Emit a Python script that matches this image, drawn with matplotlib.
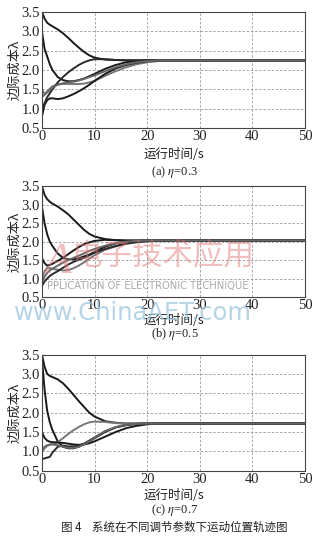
import matplotlib
matplotlib.use("Agg")
import matplotlib.pyplot as plt

plt.rcParams['font.family'] = ['Liberation Serif', 'Noto Sans CJK SC', 'DejaVu Sans']
plt.rcParams['mathtext.fontset'] = 'stix'

CJK = ['Noto Sans CJK SC', 'DejaVu Sans']

# shared time samples (s)
T = [0, 0.5, 1, 1.5, 2, 3, 4, 5, 6, 7, 8, 9, 10, 12, 14, 16, 18, 20, 22, 25, 30, 40, 50]

# (a) eta = 0.3
a1 = [3.5, 3.33, 3.22, 3.17, 3.13, 3.05, 2.95, 2.83, 2.70, 2.58, 2.47, 2.38, 2.32, 2.27, 2.26, 2.25, 2.25, 2.25, 2.25, 2.25, 2.25, 2.25, 2.25]
a2 = [3.0, 2.55, 2.35, 2.15, 2.00, 1.82, 1.74, 1.71, 1.71, 1.74, 1.78, 1.84, 1.90, 2.03, 2.13, 2.20, 2.23, 2.25, 2.25, 2.25, 2.25, 2.25, 2.25]
a3 = [1.5, 1.38, 1.45, 1.52, 1.58, 1.63, 1.64, 1.64, 1.64, 1.64, 1.65, 1.68, 1.72, 1.85, 1.97, 2.07, 2.15, 2.20, 2.23, 2.25, 2.25, 2.25, 2.25]
a4 = [0.8, 1.10, 1.22, 1.27, 1.27, 1.25, 1.27, 1.32, 1.38, 1.45, 1.53, 1.62, 1.72, 1.90, 2.04, 2.13, 2.19, 2.23, 2.25, 2.25, 2.25, 2.25, 2.25]
a5 = [1.0, 1.15, 1.30, 1.40, 1.50, 1.68, 1.82, 1.94, 2.04, 2.13, 2.20, 2.25, 2.28, 2.28, 2.26, 2.25, 2.25, 2.25, 2.25, 2.25, 2.25, 2.25, 2.25]
a6 = [1.3, 1.36, 1.42, 1.48, 1.55, 1.62, 1.66, 1.68, 1.70, 1.73, 1.77, 1.82, 1.86, 1.97, 2.07, 2.15, 2.20, 2.23, 2.25, 2.25, 2.25, 2.25, 2.25]

# (b) eta = 0.5
b1 = [3.5, 3.27, 3.15, 3.08, 3.03, 2.95, 2.85, 2.74, 2.60, 2.46, 2.32, 2.21, 2.14, 2.07, 2.04, 2.03, 2.03, 2.03, 2.03, 2.03, 2.03, 2.03, 2.03]
b2 = [2.95, 2.50, 2.20, 2.00, 1.88, 1.68, 1.56, 1.52, 1.52, 1.55, 1.60, 1.65, 1.72, 1.86, 1.95, 2.00, 2.02, 2.03, 2.03, 2.03, 2.03, 2.03, 2.03]
b3 = [1.0, 1.20, 1.29, 1.28, 1.26, 1.24, 1.22, 1.23, 1.28, 1.35, 1.44, 1.54, 1.63, 1.78, 1.87, 1.94, 1.98, 2.01, 2.03, 2.03, 2.03, 2.03, 2.03]
b4 = [1.55, 1.42, 1.35, 1.37, 1.40, 1.48, 1.56, 1.66, 1.76, 1.85, 1.93, 1.98, 2.02, 2.05, 2.04, 2.03, 2.03, 2.03, 2.03, 2.03, 2.03, 2.03, 2.03]
b5 = [0.8, 0.92, 1.00, 1.07, 1.12, 1.20, 1.29, 1.38, 1.45, 1.51, 1.56, 1.63, 1.70, 1.80, 1.88, 1.95, 1.99, 2.01, 2.02, 2.03, 2.03, 2.03, 2.03]
b6 = [0.9, 1.05, 1.15, 1.22, 1.27, 1.35, 1.43, 1.50, 1.56, 1.62, 1.68, 1.75, 1.80, 1.89, 1.96, 2.00, 2.02, 2.03, 2.03, 2.03, 2.03, 2.03, 2.03]

# (c) eta = 0.7
c1 = [3.5, 3.19, 3.00, 2.95, 2.92, 2.86, 2.76, 2.62, 2.46, 2.30, 2.15, 2.00, 1.90, 1.78, 1.74, 1.72, 1.72, 1.72, 1.72, 1.72, 1.72, 1.72, 1.72]
c2 = [3.4, 2.60, 2.05, 1.75, 1.55, 1.26, 1.12, 1.08, 1.08, 1.12, 1.19, 1.26, 1.34, 1.50, 1.62, 1.68, 1.71, 1.72, 1.72, 1.72, 1.72, 1.72, 1.72]
c3 = [1.0, 1.08, 1.14, 1.17, 1.19, 1.24, 1.34, 1.45, 1.55, 1.63, 1.70, 1.75, 1.77, 1.76, 1.73, 1.72, 1.72, 1.72, 1.72, 1.72, 1.72, 1.72, 1.72]
c4 = [1.5, 1.35, 1.28, 1.25, 1.24, 1.23, 1.22, 1.20, 1.18, 1.17, 1.18, 1.21, 1.26, 1.38, 1.50, 1.60, 1.66, 1.70, 1.72, 1.72, 1.72, 1.72, 1.72]
c5 = [0.8, 0.82, 0.84, 0.86, 0.97, 1.12, 1.15, 1.13, 1.13, 1.15, 1.20, 1.28, 1.36, 1.52, 1.62, 1.68, 1.71, 1.72, 1.72, 1.72, 1.72, 1.72, 1.72]
c6 = [1.0, 1.12, 1.16, 1.18, 1.18, 1.16, 1.12, 1.09, 1.09, 1.12, 1.18, 1.26, 1.35, 1.52, 1.63, 1.69, 1.71, 1.72, 1.72, 1.72, 1.72, 1.72, 1.72]

panels = [
    ([a1, a2, a3, a4, a5, a6], '(a) ', '0.3'),
    ([b1, b2, b3, b4, b5, b6], '(b) ', '0.5'),
    ([c1, c2, c3, c4, c5, c6], '(c) ', '0.7'),
]
line_colors = ['#1a1a1a', '#1a1a1a', '#777777', '#1a1a1a', '#2a2a2a', '#666666']

yticks = [0.5, 1.0, 1.5, 2.0, 2.5, 3.0, 3.5]
xticks = [0, 10, 20, 30, 40, 50]

fig = plt.figure(figsize=(3.2, 5.43), dpi=100)

# axes boxes [left, bottom, width, height] in figure fractions
boxes = [[0.131, 0.764, 0.822, 0.214],
         [0.131, 0.453, 0.822, 0.204],
         [0.131, 0.133, 0.822, 0.214]]
xlab_y = [0.716, 0.409, 0.088]
cap_y = [0.683, 0.385, 0.061]

for (curves, tag, eta), box, xl, cy in zip(panels, boxes, xlab_y, cap_y):
    ax = fig.add_axes(box)
    for vals, col in zip(curves, line_colors):
        ax.plot(T, vals, color=col, lw=1.4)
    ax.set_xlim(0, 50)
    ax.set_ylim(0.5, 3.5)
    ax.set_xticks(xticks)
    ax.set_yticks(yticks)
    ax.set_yticklabels([f"{v:.1f}" for v in yticks])
    ax.tick_params(direction='in', length=0, labelsize=10.5, pad=1.5, labelcolor='#222222')
    ax.grid(True, linestyle=(0, (3, 2)), color='#999999', lw=0.6)
    for s in ax.spines.values():
        s.set_color('#444444')
        s.set_linewidth(0.8)
    ax.set_ylabel('边际成本λ', family=CJK, fontsize=9.5, labelpad=0, color='#222222')
    fig.text(0.545, xl, '运行时间/s', family=CJK, fontsize=9, ha='center', va='center', color='#222222')
    fig.text(0.545, cy, tag + r'$\eta$=' + eta, fontsize=9, ha='center', va='center', color='#222222')
    if tag == '(b) ':
        # watermark
        ax.text(0.5, 1.45, 'A', fontsize=32, color='#e08080', alpha=0.5, style='italic', ha='left', va='center')
        ax.text(5.5, 1.62, '电子技术应用', family=CJK, fontsize=22, color='#e07070', alpha=0.45, ha='left', va='center')
        ax.text(1.0, 0.8, 'PPLICATION OF ELECTRONIC TECHNIQUE', family=['DejaVu Sans'], fontsize=7.2,
                color='#aaaaaa', ha='left', va='center')
        fig.text(0.045, 0.424, 'www.ChinaAET.com', family=['DejaVu Sans'], fontsize=17.5,
                 color='#9cc6de', alpha=0.75, ha='left', va='center')

fig.text(0.545, 0.028, '图 4    系统在不同调节参数下运动位置轨迹图', family=CJK, fontsize=8.3,
         ha='center', va='center', color='#222222')

fig.savefig('out.png', dpi=100)
